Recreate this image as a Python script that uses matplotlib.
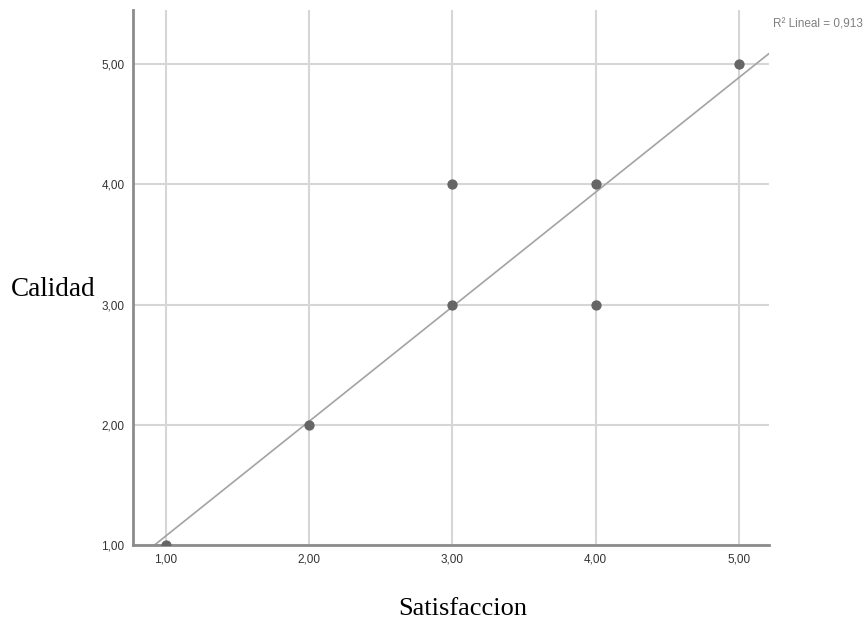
import numpy as np
import matplotlib
matplotlib.use("Agg")
import matplotlib.pyplot as plt

# observed points (Satisfaccion, Calidad)
satisfaccion = [1, 2, 3, 3, 4, 4, 5]
calidad = [1, 2, 3, 4, 4, 3, 5]

# fitted line as drawn by the source program
fit_slope = 0.953
fit_intercept = 0.123
r2_label = "R² Lineal = 0,913"

ticks = [1, 2, 3, 4, 5]
tick_labels = ["1,00", "2,00", "3,00", "4,00", "5,00"]

fig = plt.figure(figsize=(8.67, 6.25), dpi=100)
ax = fig.add_axes([0.1534, 0.128, 0.7336, 0.856])

xmin, xmax = 0.77, 5.21
ymin, ymax = 1.0, 5.45

ax.set_xlim(xmin, xmax)
ax.set_ylim(ymin, ymax)

ax.set_xticks(ticks)
ax.set_xticklabels(tick_labels)
ax.set_yticks(ticks)
ax.set_yticklabels(tick_labels)
ax.grid(True, color="#d6d6d6", linewidth=1.5)
ax.set_axisbelow(True)

for side in ["top", "right"]:
    ax.spines[side].set_visible(False)
for side in ["left", "bottom"]:
    ax.spines[side].set_color("#8c8c8c")
    ax.spines[side].set_linewidth(2)

ax.tick_params(length=0, pad=6, labelsize=8.5, labelcolor="#333333")
for lab in ax.get_xticklabels() + ax.get_yticklabels():
    lab.set_family(["Liberation Sans", "DejaVu Sans"])

# fit line
x_start = (ymin - fit_intercept) / fit_slope
xs = np.array([x_start, xmax])
ax.plot(xs, fit_slope * xs + fit_intercept, color="#a3a3a3", linewidth=1.2, zorder=2)

ax.scatter(satisfaccion, calidad, s=55, color="#666666", zorder=3, linewidths=0)

ax.text(1.006, 0.972, r2_label, transform=ax.transAxes, fontsize=8.5,
        color="#808080", family=["Liberation Sans", "DejaVu Sans"],
        ha="left", va="center")

fig.text(0.534, 0.016, "Satisfaccion", fontsize=19, family=["Liberation Serif", "DejaVu Serif"],
         ha="center", va="baseline", color="black")
fig.text(0.013, 0.526, "Calidad", fontsize=19.5, family=["Liberation Serif", "DejaVu Serif"],
         ha="left", va="baseline", color="black")

fig.savefig("out.png", dpi=100)
